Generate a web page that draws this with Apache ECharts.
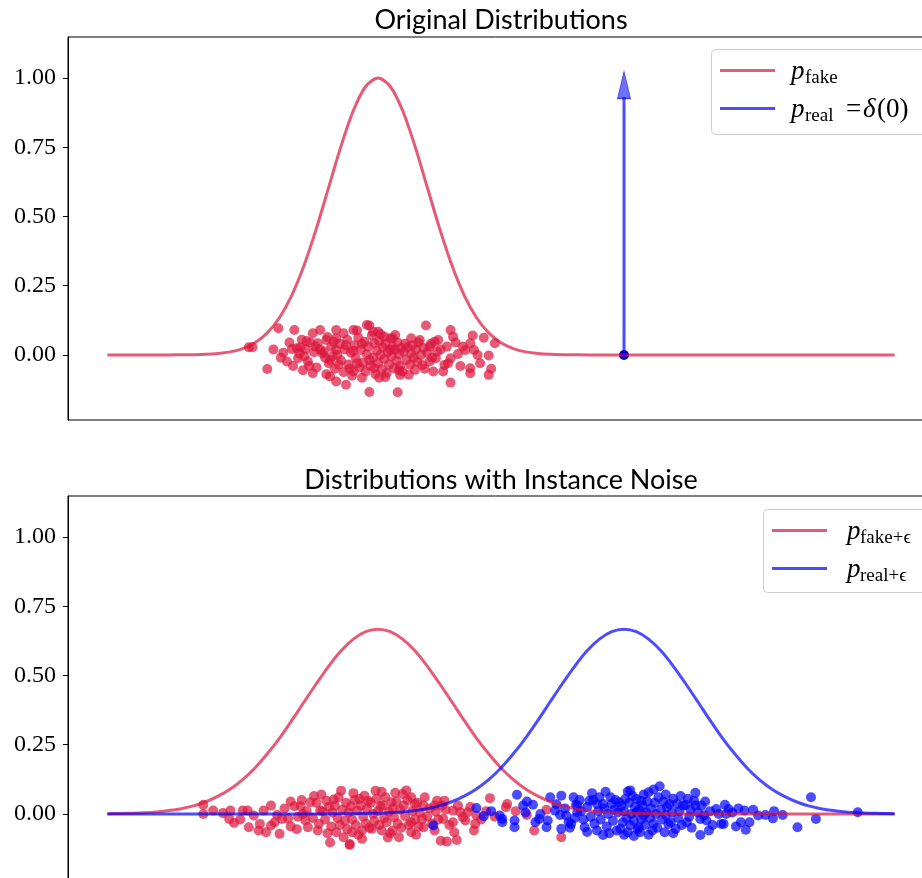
<!DOCTYPE html>
<html>
<head>
<meta charset="utf-8">
<title>Instance noise</title>
<script src="https://cdn.jsdelivr.net/npm/echarts@6.0.0/dist/echarts.min.js"></script>
<style>
  html, body { margin: 0; padding: 0; background: #fff; }
  #chart { width: 922px; height: 878px; }
</style>
</head>
<body>
<div id="chart"></div>
<script>
// x positions where the density curves are sampled
const curveX = [-4.2, -4.1, -4.0, -3.9, -3.8, -3.7, -3.6, -3.5, -3.4, -3.3, -3.2, -3.1, -3.0, -2.9, -2.8, -2.7,
  -2.6, -2.5, -2.4, -2.3, -2.2, -2.1, -2.0, -1.9, -1.8, -1.7, -1.6, -1.5, -1.4, -1.3, -1.2, -1.1, -1.0, -0.9,
  -0.8, -0.7, -0.6, -0.5, -0.4, -0.3, -0.2, -0.1, 0.0, 0.1, 0.2, 0.3, 0.4, 0.5, 0.6, 0.7, 0.8, 0.9, 1.0, 1.1,
  1.2, 1.3, 1.4, 1.5, 1.6, 1.7, 1.8, 1.9, 2.0, 2.1, 2.2]

// p_fake (top panel)
const fakeDensity = [0, 0, 0, 0, 0, 0.0001, 0.0003, 0.0009, 0.0022, 0.0051, 0.0111, 0.0228, 0.0439, 0.0796,
  0.1353, 0.2163, 0.3247, 0.4578, 0.6065, 0.7548, 0.8825, 0.9692, 1.0, 0.9692, 0.8825, 0.7548, 0.6065, 0.4578,
  0.3247, 0.2163, 0.1353, 0.0796, 0.0439, 0.0228, 0.0111, 0.0051, 0.0022, 0.0009, 0.0003, 0.0001,
  0, 0, 0, 0, 0, 0, 0, 0, 0, 0, 0, 0, 0, 0, 0, 0, 0, 0, 0, 0, 0, 0, 0, 0, 0]

// p_fake+eps and p_real+eps (bottom panel)
const fakeNoisyDensity = [0.0008, 0.0015, 0.0026, 0.0044, 0.0074, 0.012, 0.019, 0.029, 0.044, 0.064, 0.090,
  0.124, 0.166, 0.217, 0.274, 0.338, 0.405, 0.471, 0.534, 0.589, 0.631, 0.658, 0.667, 0.658, 0.631, 0.589,
  0.534, 0.471, 0.405, 0.338, 0.274, 0.217, 0.166, 0.124, 0.090, 0.064, 0.044, 0.029, 0.019, 0.012, 0.0074,
  0.0044, 0.0026, 0.0015, 0.0008, 0.0004, 0.0002, 0.0001, 0, 0, 0, 0, 0, 0, 0, 0, 0, 0, 0, 0, 0, 0, 0, 0, 0]
const realNoisyDensity = [0, 0, 0, 0, 0, 0, 0, 0, 0, 0, 0, 0, 0, 0, 0, 0, 0, 0.0001, 0.0002, 0.0004, 0.0008,
  0.0015, 0.0026, 0.0044, 0.0074, 0.012, 0.019, 0.029, 0.044, 0.064, 0.090, 0.124, 0.166, 0.217, 0.274, 0.338,
  0.405, 0.471, 0.534, 0.589, 0.631, 0.658, 0.667, 0.658, 0.631, 0.589, 0.534, 0.471, 0.405, 0.338, 0.274,
  0.217, 0.166, 0.124, 0.090, 0.064, 0.044, 0.029, 0.019, 0.012, 0.0074, 0.0044, 0.0026, 0.0015, 0.0008]

// delta(0): arrow shaft and head, plus the stacked real samples at 0
const arrowShaft = [[0, 0], [0, 0.93]]
const arrowHead = [[0, 0.975]]
const realSamples = [[0, 0]]

// samples from p_fake (top)
const fakeSamples = [
  [-3.05, 0.028], [-3.02, 0.028], [-2.81, 0.096], [-2.68, 0.090], [-2.53, 0.078], [-2.47, 0.090], [-2.34, 0.090],
  [-2.28, 0.078], [-2.20, 0.090], [-2.17, 0.088], [-2.09, 0.108], [-2.49, 0.042], [-2.42, 0.054], [-2.36, 0.048],
  [-2.51, 0.030], [-2.70, 0.021], [-2.66, 0.024], [-2.63, 0.028], [-2.59, 0.021], [-2.77, 0.008], [-2.74, -0.024],
  [-2.65, -0.012], [-2.57, -0.024], [-2.52, 0.010], [-2.44, 0.012], [-2.39, -0.018], [-2.34, 0.018], [-2.90, -0.051],
  [-2.53, -0.066], [-2.42, -0.070], [-2.39, -0.078], [-2.34, -0.096], [-2.26, -0.108], [-2.20, -0.060], [-2.13, -0.082],
  [-2.07, 0.106], [-1.61, 0.106], [-1.41, 0.090], [-1.39, 0.066], [-1.23, 0.070], [-1.14, 0.062], [-1.05, 0.042],
  [-1.25, 0.042], [-1.22, 0.018], [-1.29, 0.018], [-1.35, 0.003], [-1.41, -0.012], [-1.46, -0.036], [-1.10, -0.002],
  [-1.25, -0.048], [-1.25, -0.066], [-1.08, -0.050], [-1.10, -0.072], [-1.41, -0.100], [-1.84, -0.135], [-1.55, -0.060],
  [-1.51, 0.054], [-1.54, 0.048], [-1.58, 0.030], [-1.52, 0.012], [-1.53, -0.012], [-1.58, -0.024], [-1.66, 0.054],
  [-1.73, 0.060], [-1.88, 0.060], [-1.95, 0.066], [-2.00, 0.084], [-2.04, 0.084], [-1.75, -0.072], [-1.82, -0.072],
  [-1.99, -0.082], [-1.70, -0.054], [-1.64, -0.036], [-2.07, -0.134],
  [-2.45, 0.005], [-2.40, -0.030], [-2.38, 0.030], [-2.35, -0.050], [-2.33, 0.000], [-2.31, 0.040], [-2.30, -0.020],
  [-2.28, -0.062], [-2.27, 0.020], [-2.25, 0.055], [-2.24, -0.035], [-2.22, 0.008], [-2.21, -0.075], [-2.19, 0.035],
  [-2.18, -0.012], [-2.16, 0.062], [-2.15, -0.045], [-2.14, 0.018], [-2.12, -0.028], [-2.11, 0.048], [-2.10, -0.060],
  [-2.09, 0.002], [-2.08, 0.030], [-2.06, -0.040], [-2.05, 0.070], [-2.04, -0.010], [-2.03, 0.042], [-2.02, -0.070],
  [-2.01, 0.015], [-2.00, -0.030], [-1.99, 0.050], [-1.98, 0.000], [-1.97, -0.052], [-1.96, 0.028], [-1.95, -0.015],
  [-1.94, 0.040], [-1.93, -0.065], [-1.92, 0.010], [-1.91, -0.035], [-1.90, 0.060], [-1.89, -0.005], [-1.88, 0.030],
  [-1.87, -0.048], [-1.86, 0.018], [-1.85, -0.022], [-1.84, 0.045], [-1.83, 0.002], [-1.82, -0.040], [-1.81, 0.025],
  [-1.80, -0.060], [-1.79, 0.012], [-1.78, 0.040], [-1.77, -0.018], [-1.76, 0.028], [-1.74, -0.035], [-1.73, 0.005],
  [-1.72, 0.035], [-1.71, -0.010], [-1.69, 0.020], [-1.68, -0.025], [-1.67, 0.045], [-1.65, 0.000], [-1.63, 0.025],
  [-1.62, -0.050], [-1.60, 0.008], [-1.57, 0.040], [-1.56, -0.010], [-1.49, 0.020], [-1.47, -0.060], [-1.44, 0.030],
  [-1.43, -0.030], [-1.37, 0.045], [-1.33, -0.040], [-1.31, 0.030], [-1.19, 0.000], [-1.17, -0.030],
  [-2.55, 0.045], [-2.50, -0.045], [-2.47, 0.020], [-2.43, -0.010], [-2.41, 0.065], [-2.37, -0.005], [-2.34, 0.060],
  [-2.32, -0.035], [-2.26, 0.035], [-2.23, -0.050], [-2.20, 0.015], [-2.17, -0.030], [-2.13, 0.040], [-2.07, -0.018],
  [-2.03, -0.048], [-1.98, 0.075], [-1.94, -0.080], [-1.90, 0.020], [-1.86, 0.072], [-1.83, -0.055],
  [-2.62, 0.055], [-2.60, -0.005], [-2.58, 0.050], [-2.56, -0.040], [-2.61, -0.055], [-2.64, 0.005], [-2.69, -0.040],
  [-2.72, 0.045], [-2.79, -0.010], [-2.85, 0.020]
]

// samples from p_fake+eps (bottom)
const fakeNoisySamples = [
  [-3.42, 0.033], [-3.42, 0.000], [-3.34, 0.012], [-3.26, 0.003], [-3.20, 0.012], [-3.21, -0.018], [-3.17, -0.033],
  [-3.10, 0.012], [-3.06, 0.012], [-3.05, -0.048], [-3.01, -0.006], [-2.97, -0.060], [-2.96, -0.036], [-2.93, 0.012],
  [-2.91, -0.066], [-2.87, 0.030], [-2.87, -0.042], [-2.82, -0.004], [-2.80, -0.072], [-2.78, -0.018], [-2.73, -0.016],
  [-2.71, 0.045], [-2.71, -0.045], [-2.68, 0.028], [-2.63, 0.028], [-2.61, 0.000], [-2.59, -0.024], [-2.57, -0.048],
  [-2.55, 0.042], [-2.50, 0.040], [-2.48, -0.036], [-2.47, 0.012], [-2.42, 0.048], [-2.36, 0.052], [-2.30, 0.084],
  [-2.39, -0.103], [-2.23, -0.112], [-2.34, -0.066], [-2.28, -0.084], [-2.21, -0.066],
  [-2.02, 0.084], [-2.15, 0.054], [-1.86, 0.076], [-1.80, 0.072], [-1.73, 0.060], [-2.08, 0.048], [-1.96, 0.030],
  [-1.89, 0.042], [-1.70, 0.036], [-1.63, 0.030], [-1.52, 0.048], [-1.46, 0.048], [-1.54, 0.030], [-1.48, 0.030],
  [-1.09, 0.057], [-0.95, 0.036], [-1.39, 0.012], [-1.33, 0.006], [-1.27, 0.006], [-1.20, -0.006], [-1.29, -0.024],
  [-1.39, -0.030], [-1.47, -0.018], [-1.21, -0.036], [-1.22, -0.060], [-1.38, -0.066], [-1.49, -0.097], [-1.44, -0.100],
  [-1.36, -0.094], [-1.54, -0.060], [-1.63, -0.048], [-1.64, -0.018], [-1.73, -0.030], [-1.73, -0.066], [-1.83, -0.084],
  [-1.88, -0.060], [-1.97, -0.060], [-2.05, -0.054], [-2.13, -0.060], [-2.23, -0.109],
  [-0.96, 0.024], [-0.79, -0.004], [-0.73, -0.060], [-0.51, -0.084],
  [-2.45, 0.010], [-2.43, -0.020], [-2.40, 0.025], [-2.38, -0.045], [-2.37, 0.005], [-2.35, 0.030], [-2.33, -0.015],
  [-2.32, 0.060], [-2.31, -0.040], [-2.29, 0.015], [-2.27, -0.025], [-2.26, 0.040], [-2.25, -0.055], [-2.24, 0.005],
  [-2.22, 0.028], [-2.21, -0.020], [-2.19, 0.050], [-2.18, -0.040], [-2.17, 0.012], [-2.16, -0.075], [-2.14, 0.030],
  [-2.12, -0.010], [-2.11, 0.066], [-2.10, -0.035], [-2.09, 0.018], [-2.07, -0.050], [-2.06, 0.040], [-2.04, 0.000],
  [-2.03, -0.025], [-2.01, 0.055], [-2.00, 0.010], [-1.99, -0.040], [-1.98, 0.028], [-1.95, -0.015], [-1.94, 0.060],
  [-1.93, -0.030], [-1.91, 0.008], [-1.90, -0.070], [-1.88, 0.020], [-1.87, -0.012], [-1.85, 0.045], [-1.84, -0.035],
  [-1.82, 0.015], [-1.81, -0.050], [-1.79, 0.030], [-1.78, -0.008], [-1.76, 0.050], [-1.75, -0.040], [-1.72, 0.010],
  [-1.70, -0.020], [-1.68, 0.040], [-1.67, -0.045], [-1.66, 0.005], [-1.62, 0.060], [-1.60, -0.010], [-1.58, 0.020],
  [-1.56, -0.035], [-1.53, 0.008], [-1.51, -0.020], [-1.45, 0.015], [-1.42, -0.040], [-1.35, 0.030], [-1.31, -0.012],
  [-1.25, 0.025], [-1.16, -0.020], [-1.12, 0.010], [-1.05, -0.010],
  [-2.65, -0.010], [-2.62, 0.050], [-2.58, 0.010], [-2.53, -0.015], [-2.52, 0.065], [-2.49, -0.060], [-2.46, 0.070],
  [-2.41, -0.070], [-2.20, 0.075], [-2.13, -0.090], [-1.97, 0.080], [-1.92, -0.085], [-1.77, 0.085], [-1.69, -0.075],
  [-2.76, 0.020], [-2.66, -0.055], [-2.84, -0.030], [-3.12, -0.020], [-0.88, 0.010], [-0.63, 0.015]
]

// samples from p_real+eps (bottom)
const realNoisySamples = [
  [-1.55, -0.042], [-1.20, 0.021], [-1.14, -0.008], [-1.01, -0.006], [-0.99, -0.018], [-0.99, -0.030], [-0.87, 0.069],
  [-0.89, -0.024], [-0.89, -0.048],
  [-0.79, 0.045], [-0.82, 0.030], [-0.74, 0.033], [-0.60, 0.060], [-0.51, 0.066], [-0.41, 0.060], [-0.68, 0.000],
  [-0.69, -0.018], [-0.62, -0.024], [-0.63, -0.048], [-0.56, 0.012], [-0.52, -0.004], [-0.47, -0.006], [-0.45, -0.030],
  [-0.51, -0.054], [-0.39, 0.033], [-0.38, 0.006],
  [-0.38, 0.030], [-0.43, -0.036], [-0.32, -0.048], [-0.28, 0.048], [-0.22, 0.036], [-0.17, -0.076], [-0.22, -0.060],
  [-0.17, 0.036], [-0.10, 0.036], [-0.04, 0.042], [0.03, 0.081], [0.01, 0.054], [0.10, 0.054], [0.14, 0.048],
  [0.20, 0.078], [0.28, 0.060], [0.29, 0.100], [-0.03, -0.054], [0.03, -0.066], [0.12, -0.048], [0.13, -0.066],
  [0.23, -0.060], [0.33, -0.066], [0.36, -0.036], [0.37, 0.036], [0.43, 0.036], [0.50, 0.033], [0.58, 0.076],
  [0.57, 0.048], [0.58, 0.030], [0.42, -0.054], [0.51, -0.030], [0.62, -0.076], [0.62, -0.018], [0.67, -0.024],
  [0.75, 0.018], [0.82, 0.033], [0.85, 0.018], [0.79, -0.036], [0.10, 0.006], [0.16, -0.006],
  [0.83, 0.000], [0.81, -0.036], [0.91, -0.045], [0.95, -0.030], [0.98, 0.012], [0.99, -0.057], [1.02, -0.030],
  [1.09, -0.006], [1.15, -0.004], [1.21, -0.016], [1.29, -0.004], [1.41, -0.048], [1.52, 0.060], [1.56, -0.018],
  [1.90, 0.006],
  [-0.35, 0.010], [-0.33, -0.020], [-0.30, 0.025], [-0.27, -0.010], [-0.25, 0.050], [-0.24, -0.035], [-0.21, 0.010],
  [-0.19, -0.020], [-0.16, 0.020], [-0.14, -0.045], [-0.13, 0.000], [-0.11, 0.060], [-0.09, -0.025], [-0.08, 0.015],
  [-0.06, -0.060], [-0.05, 0.005], [-0.02, 0.030], [-0.01, -0.030], [0.00, 0.010], [0.02, -0.015], [0.04, 0.040],
  [0.05, -0.040], [0.06, 0.000], [0.07, 0.065], [0.08, -0.025], [0.09, 0.025], [0.11, -0.055], [0.12, 0.015],
  [0.14, -0.020], [0.15, 0.030], [0.17, -0.040], [0.18, 0.005], [0.19, 0.045], [0.21, -0.015], [0.22, 0.020],
  [0.24, -0.035], [0.25, 0.040], [0.26, 0.000], [0.27, -0.050], [0.30, 0.015], [0.31, -0.020], [0.32, 0.045],
  [0.34, -0.005], [0.35, 0.025], [0.38, -0.030], [0.39, 0.005], [0.40, 0.055], [0.44, -0.015], [0.45, 0.010],
  [0.47, -0.040], [0.48, 0.030], [0.53, -0.010], [0.54, 0.015], [0.55, -0.050], [0.60, 0.005], [0.63, 0.030],
  [0.65, -0.005], [0.70, 0.010], [0.72, -0.040], [0.77, 0.000],
  [-0.55, 0.035], [-0.48, 0.020], [-0.44, -0.050], [-0.40, -0.015], [-0.36, 0.050], [-0.30, -0.065], [-0.26, 0.075],
  [-0.20, 0.060], [-0.15, 0.080], [-0.12, -0.070], [-0.07, 0.050], [0.00, -0.075], [0.05, 0.085], [0.08, -0.080],
  [0.16, 0.070], [0.20, -0.075], [0.24, 0.088], [0.34, 0.070], [0.40, -0.070], [0.46, 0.065], [0.52, 0.055],
  [0.66, 0.045], [0.69, -0.060], [0.88, 0.005], [0.93, 0.020], [1.05, 0.015], [-0.72, -0.030], [-0.80, 0.005],
  [-1.08, 0.010], [1.22, 0.010]
]

const yTicks = [0, 0.25, 0.5, 0.75, 1.0]
const panelTitles = ['Original Distributions', 'Distributions with Instance Noise']

const RED = 'rgba(220,20,60,0.7)'
const BLUE = 'rgba(0,0,255,0.7)'
const SERIF = '"Liberation Serif", "DejaVu Serif", serif'

const zip = (xs, ys) => xs.map((x, i) => [x, ys[i]])

const chart = echarts.init(document.getElementById('chart'), null, { renderer: 'canvas' })

// the axes run past the right and bottom edge of the picture (it was cropped)
const gridBase = {
  left: 68, width: 866, height: 383, show: true, borderColor: '#000', borderWidth: 1,
  backgroundColor: 'transparent', containLabel: false, outerBoundsMode: 'none',
}

const xAxisFor = (gi) => ({
  type: 'value', gridIndex: gi, min: -4.52, max: 2.52,
  axisLine: { show: false }, axisTick: { show: false }, axisLabel: { show: false }, splitLine: { show: false },
})
const yAxisFor = (gi) => ({
  type: 'value', gridIndex: gi, min: -0.235, max: 1.148,
  axisLine: { show: true, onZero: false, lineStyle: { color: '#000', width: 1 } },
  splitLine: { show: false },
  axisTick: { show: true, length: 5, customValues: yTicks, lineStyle: { color: '#000', width: 1 } },
  axisLabel: {
    customValues: yTicks, formatter: (v) => v.toFixed(2),
    fontFamily: SERIF, fontSize: 24, color: '#000', margin: 12,
  },
})

const lineSeries = (name, gi, data, color, z) => ({
  name, type: 'line', xAxisIndex: gi, yAxisIndex: gi, data, showSymbol: false, symbol: 'none',
  smooth: 0.3, lineStyle: { color, width: 3 }, itemStyle: { color }, z, animation: false,
})
const dotSeries = (name, gi, data, color) => ({
  name, type: 'scatter', xAxisIndex: gi, yAxisIndex: gi, data, symbolSize: 10,
  itemStyle: { color, opacity: 1 }, z: 2, animation: false,
})

// legend drawn by hand so the math labels can carry subscripts
const txt = (text, x, y, size, italic) => ({
  type: 'text', x, y, z: 12,
  style: {
    text, font: (italic ? 'italic ' : '') + size + 'px ' + SERIF, fill: '#000',
    textAlign: 'left', textVerticalAlign: 'bottom', align: 'left', verticalAlign: 'bottom',
  },
})
const legendLine = (x1, x2, y, color) => ({
  type: 'line', z: 12, shape: { x1, y1: y, x2, y2: y }, style: { stroke: color, lineWidth: 3 },
})
const legendBox = (x, y, w, h) => ({
  type: 'rect', z: 11, shape: { x, y, width: w, height: h, r: 4 },
  style: { fill: 'rgba(255,255,255,0.85)', stroke: '#cccccc', lineWidth: 1 },
})
const titleText = (text, y) => ({
  type: 'text', x: 501, y, z: 12,
  style: {
    text, font: '27px Lato, "Open Sans", sans-serif', fill: '#000',
    textAlign: 'center', textVerticalAlign: 'middle', align: 'center', verticalAlign: 'middle',
  },
})

chart.setOption({
  animation: false,
  backgroundColor: '#fff',
  grid: [
    { ...gridBase, top: 37 },
    { ...gridBase, top: 496 },
  ],
  xAxis: [xAxisFor(0), xAxisFor(1)],
  yAxis: [yAxisFor(0), yAxisFor(1)],
  series: [
    dotSeries('fake samples', 0, fakeSamples, RED),
    dotSeries('real samples', 0, realSamples, '#0000c8'),
    lineSeries('p_fake', 0, zip(curveX, fakeDensity), RED, 3),
    lineSeries('p_real = delta(0)', 0, arrowShaft, BLUE, 4),
    {
      name: 'arrow head', type: 'scatter', xAxisIndex: 0, yAxisIndex: 0, data: arrowHead,
      symbol: 'triangle', symbolSize: [13, 27], z: 4, animation: false,
      itemStyle: { color: BLUE, borderColor: 'rgba(0,0,200,0.8)', borderWidth: 1 },
    },
    dotSeries('fake+eps samples', 1, fakeNoisySamples, RED),
    dotSeries('real+eps samples', 1, realNoisySamples, BLUE),
    lineSeries('p_fake+eps', 1, zip(curveX, fakeNoisyDensity), RED, 3),
    lineSeries('p_real+eps', 1, zip(curveX, realNoisyDensity), BLUE, 4),
  ],
  graphic: [
    titleText(panelTitles[0], 20),
    titleText(panelTitles[1], 480),
    // top legend
    legendBox(711.5, 49.5, 215, 85),
    legendLine(720, 775, 70.5, RED),
    legendLine(720, 775, 108.5, BLUE),
    txt('p', 791, 85, 27, true),
    txt('fake', 805, 88, 19, false),
    txt('p', 791, 123, 27, true),
    txt('real', 805, 126, 19, false),
    txt('=', 846, 123, 27, false),
    txt('δ', 863, 123, 27, true),
    txt('(0)', 877, 123, 27, false),
    // bottom legend
    legendBox(763.5, 509.5, 165, 83),
    legendLine(772, 827, 530.5, RED),
    legendLine(772, 827, 568.5, BLUE),
    txt('p', 847, 545, 27, true),
    txt('fake+ϵ', 860, 548, 19, false),
    txt('p', 847, 583, 27, true),
    txt('real+ϵ', 860, 586, 19, false),
  ],
})
</script>
</body>
</html>
